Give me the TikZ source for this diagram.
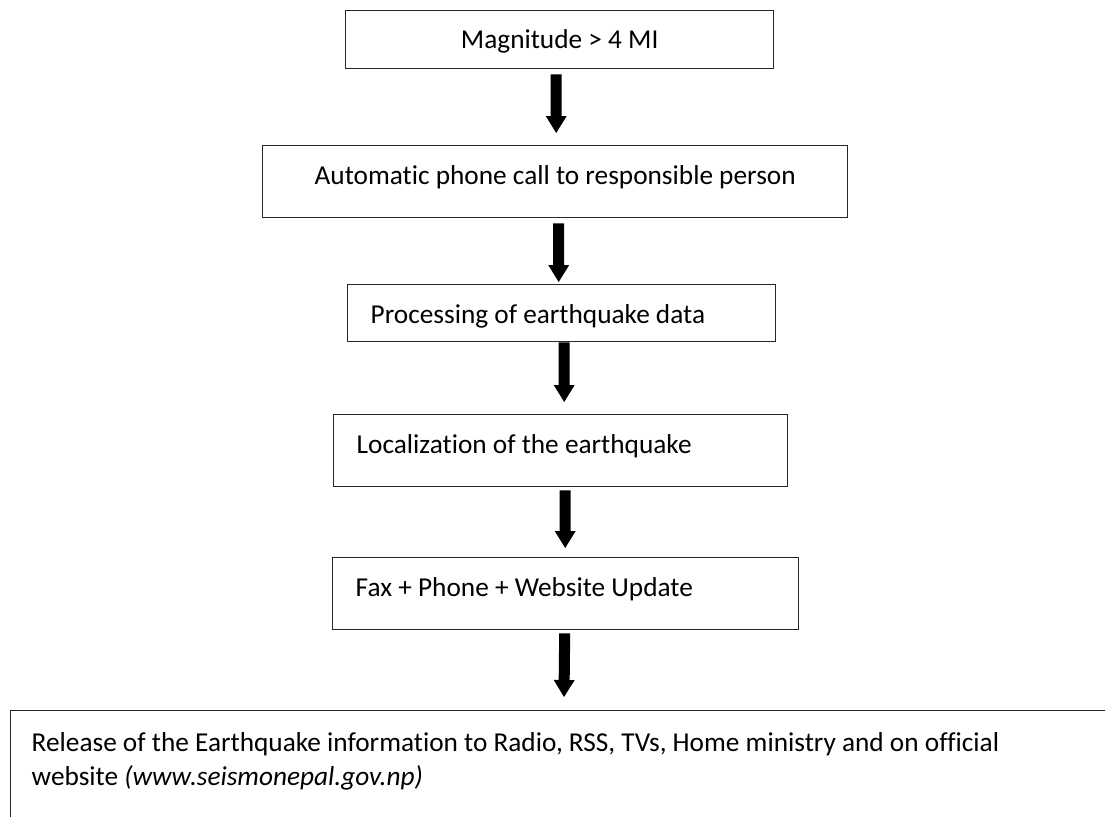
\documentclass[tikz,border=0pt]{standalone}
\usepackage{fontspec}
\setmainfont{Carlito}[Ligatures=NoCommon]
\usetikzlibrary{arrows.meta}

\tikzset{
  stepbox/.style={draw=black!85, line width=1.4bp, inner ysep=0pt,
    anchor=north west, font=\fontsize{27.3bp}{34bp}\selectfont,
    % fixed word spacing of the font itself inside aligned text
    execute at begin node={\spaceskip=\fontdimen2\font\relax
      \xspaceskip=\fontdimen2\font\relax}},
  flow/.style={line width=11bp,
    -{Triangle[length=17bp,width=21bp,line width=0pt]}},
}

\begin{document}
\begin{tikzpicture}[x=1bp, y=-1bp]
  \useasboundingbox (0,0) rectangle (1105,817);
  \clip (0,0) rectangle (1105,817);
  \fill[white] (0,0) rectangle (1105,817);

  % process steps
  \node[stepbox, inner xsep=0pt, text width=428bp, align=center,
        text height=38bp, text depth=20bp] (b1) at (345,10)
        {Magnitude > 4 MI};
  \node[stepbox, inner xsep=0pt, text width=585bp, align=center,
        text height=39bp, text depth=33bp] (b2) at (262,145)
        {Automatic phone call to responsible person};
  \node[stepbox, inner xsep=23bp, text width=382bp, align=left,
        text height=39bp, text depth=18bp] (b3) at (347,284)
        {Processing of earthquake data};
  \node[stepbox, inner xsep=23bp, text width=408bp, align=left,
        text height=39bp, text depth=33bp] (b4) at (333,414)
        {Localization of the earthquake};
  \node[stepbox, inner xsep=23bp, text width=420bp, align=left,
        text height=39bp, text depth=33bp] (b5) at (332,557)
        {Fax + Phone + Website Update};
  \node[stepbox, inner xsep=21bp, text width=1100bp, align=left,
        text height=41bp, text depth=120bp] (b6) at (10,710)
        {Release of the Earthquake information to Radio, RSS, TVs, Home ministry and on official\\
         website \textit{(www.seismonepal.gov.np)}};

  % block arrows between the steps
  \draw[flow] ([shift={(-3.5,5)}]b1.south) -- ([shift={(1,-12)}]b2.north);
  \draw[flow] ([shift={(3.5,5)}]b2.south) -- ([shift={(-3,-2)}]b3.north);
  \draw[flow] ([shift={(2.5,0)}]b3.south) -- ([shift={(3.5,-12)}]b4.north);
  \draw[flow] ([shift={(4.5,3)}]b4.south) -- ([shift={(-0.5,-9)}]b5.north);
  \draw[flow] ([shift={(-1,3)}]b5.south) -- ([shift={(554,-13)}]b6.north west);
\end{tikzpicture}
\end{document}
